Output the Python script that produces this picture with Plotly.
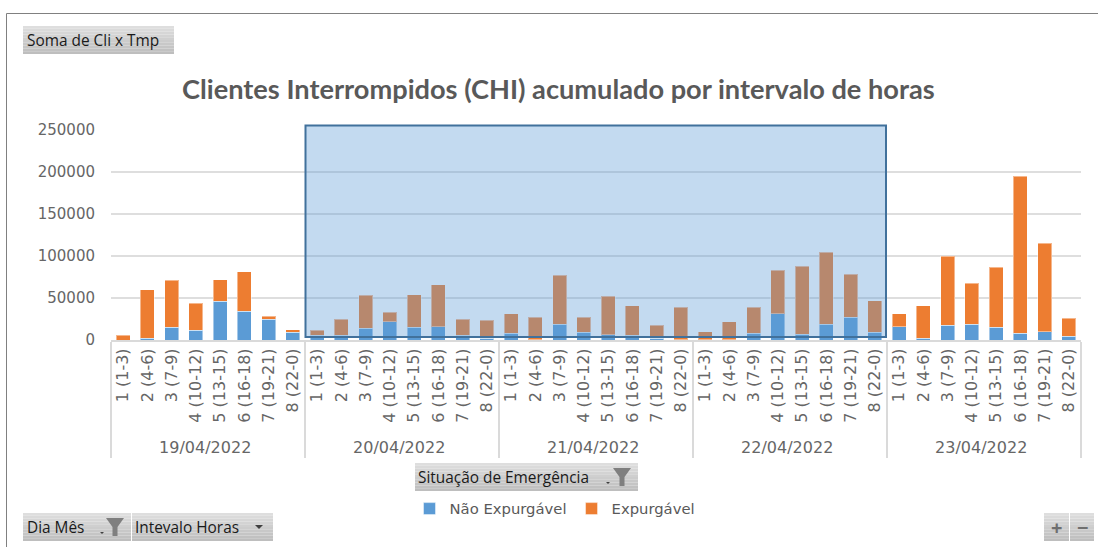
import plotly.graph_objects as go

days = ["19/04/2022", "20/04/2022", "21/04/2022", "22/04/2022", "23/04/2022"]
intervals = ["1 (1-3)", "2 (4-6)", "3 (7-9)", "4 (10-12)", "5 (13-15)", "6 (16-18)", "7 (19-21)", "8 (22-0)"]
totals = [
    5500, 60000, 71000, 43500, 72000, 81500, 28000, 12500,
    11500, 24500, 53000, 33000, 54000, 66000, 24500, 23500,
    31500, 27000, 77000, 27000, 52000, 41000, 17500, 39000,
    10000, 22000, 39000, 83000, 88000, 104500, 78000, 47000,
    31500, 41000, 99500, 67500, 86500, 195000, 115000, 26000,
]
nao_expurgavel = [
    0, 2000, 15000, 11500, 46000, 34000, 24500, 9500,
    5500, 5500, 14000, 22000, 15000, 16000, 5500, 2000,
    8000, 500, 18500, 9000, 6500, 5500, 2000, 500,
    500, 500, 8000, 31500, 7000, 18500, 27000, 9000,
    16000, 2000, 17500, 18500, 15000, 8000, 10000, 4500,
]
expurgavel = [t - n for t, n in zip(totals, nao_expurgavel)]
yticks = [0, 50000, 100000, 150000, 200000, 250000]

W, H = 1098, 547
L, R, T, B = 111, 1081, 130, 340


def px(x):
    return (x - L) / (R - L)


def py(y):
    return (B - y) / (B - T)


x_multi = [[d for d in days for _ in intervals], intervals * len(days)]

fig = go.Figure()
fig.add_bar(x=x_multi, y=nao_expurgavel, name="Não Expurgável", marker_color="#5B9BD5",
            marker_line=dict(color="rgba(255,255,255,0.45)", width=1))
fig.add_bar(x=x_multi, y=expurgavel, name="Expurgável", marker_color="#ED7D31",
            marker_line=dict(color="rgba(255,255,255,0.45)", width=1))

shapes = []
annots = []


def rect(x0, y0, x1, y1, fill, line=None, lw=0, layer="above"):
    shapes.append(dict(type="rect", xref="paper", yref="paper", x0=px(x0), x1=px(x1), y0=py(y0), y1=py(y1),
                       fillcolor=fill, line=dict(color=line or "rgba(0,0,0,0)", width=lw), layer=layer))


def button(x0, y0, x1, y1, label=None, tx=None, size=15.4):
    n = 10
    for i in range(n):
        v = int(222 - (222 - 190) * i / (n - 1))
        a = y0 + (y1 - y0) * i / n
        b = y0 + (y1 - y0) * (i + 1) / n
        rect(x0, a, x1, b, f"rgb({v},{v},{v})")
    if label:
        annots.append(dict(text=label, xref="paper", yref="paper", x=px(tx), y=py((y0 + y1) / 2),
                           xanchor="left", yanchor="middle", showarrow=False,
                           font=dict(family="Open Sans", size=size, color="#1a1a1a")))


def funnel(cx, cy):
    pts = [(cx - 9, cy - 9), (cx + 9, cy - 9), (cx + 2.5, cy), (cx + 2.5, cy + 9), (cx - 2.5, cy + 9), (cx - 2.5, cy)]
    path = "M " + " L ".join(f"{px(a)} {py(b)}" for a, b in pts) + " Z"
    shapes.append(dict(type="path", xref="paper", yref="paper", path=path, fillcolor="#7f7f7f", line=dict(width=0)))


def arrow(cx, cy, s=4):
    pts = [(cx - s, cy - s / 2), (cx + s, cy - s / 2), (cx, cy + s / 2)]
    path = "M " + " L ".join(f"{px(a)} {py(b)}" for a, b in pts) + " Z"
    shapes.append(dict(type="path", xref="paper", yref="paper", path=path, fillcolor="#404040", line=dict(width=0)))


# outer frame
shapes.append(dict(type="line", xref="paper", yref="paper", x0=px(6.5), x1=px(1098), y0=py(13.5), y1=py(13.5),
                   line=dict(color="#808080", width=1)))
shapes.append(dict(type="line", xref="paper", yref="paper", x0=px(6.5), x1=px(6.5), y0=py(13.5), y1=py(547),
                   line=dict(color="#808080", width=1)))

# selection overlay
rect(305.5, 125.5, 886, 337, "rgba(91,155,213,0.37)", "#41719C", 2)

# field buttons
button(23, 26, 174, 54, "Soma de Cli x Tmp", 25)
button(415, 463, 638, 491, "Situação de Emergência", 416)
funnel(622, 477)
arrow(608, 483, 2)
button(23, 513, 131, 541, "Dia Mês", 25)
funnel(115, 527)
arrow(102, 533, 2)
button(132, 513, 273, 541, "Intevalo Horas", 133)
arrow(259, 527)
button(1044, 513, 1069, 541, None)
button(1070, 513, 1094, 541, None)
for cx, label in [(1056.5, "+"), (1082, "−")]:
    annots.append(dict(text=f"<b>{label}</b>", xref="paper", yref="paper", x=px(cx), y=py(527), showarrow=False,
                       xanchor="center", yanchor="middle", font=dict(family="Open Sans", size=20, color="#6f6f6f")))

annots.append(dict(text="<b>Clientes Interrompidos (CHI) acumulado por intervalo de horas</b>",
                   xref="paper", yref="paper", x=px(558), y=py(88), showarrow=False,
                   xanchor="center", yanchor="middle", font=dict(family="Lato", size=27.2, color="#595959")))

fig.update_layout(
    width=W, height=H, autosize=False,
    margin=dict(l=L, r=W - R, t=T, b=H - B),
    barmode="stack", bargap=0.42,
    paper_bgcolor="white", plot_bgcolor="white",
    shapes=shapes, annotations=annots,
    font=dict(family="DejaVu Sans", size=14, color="#595959"),
    legend=dict(orientation="h", traceorder="normal", xref="paper", yref="paper", x=px(555), xanchor="center",
                y=py(509), yanchor="middle",
                font=dict(family="DejaVu Sans", size=14.8, color="#595959"), itemwidth=30, bgcolor="rgba(0,0,0,0)"),
    xaxis=dict(type="multicategory", tickangle=-90, showgrid=False, showline=True, linecolor="#DADADA", linewidth=2,
               ticks="", showdividers=True, dividercolor="#DADADA", dividerwidth=2,
               tickfont=dict(family="DejaVu Sans", size=16, color="#666666")),
    yaxis=dict(range=[0, 250000], tickvals=yticks, tickformat="d", gridcolor="#DEDEDE", gridwidth=2,
               zeroline=False, showline=False, ticks="", ticklabelstandoff=15,
               tickfont=dict(family="DejaVu Sans", size=15, color="#666666")),
)

fig.write_html("out.html", post_script="document.body.style.margin='0';document.body.style.overflow='hidden';",
               config={"displayModeBar": False})
